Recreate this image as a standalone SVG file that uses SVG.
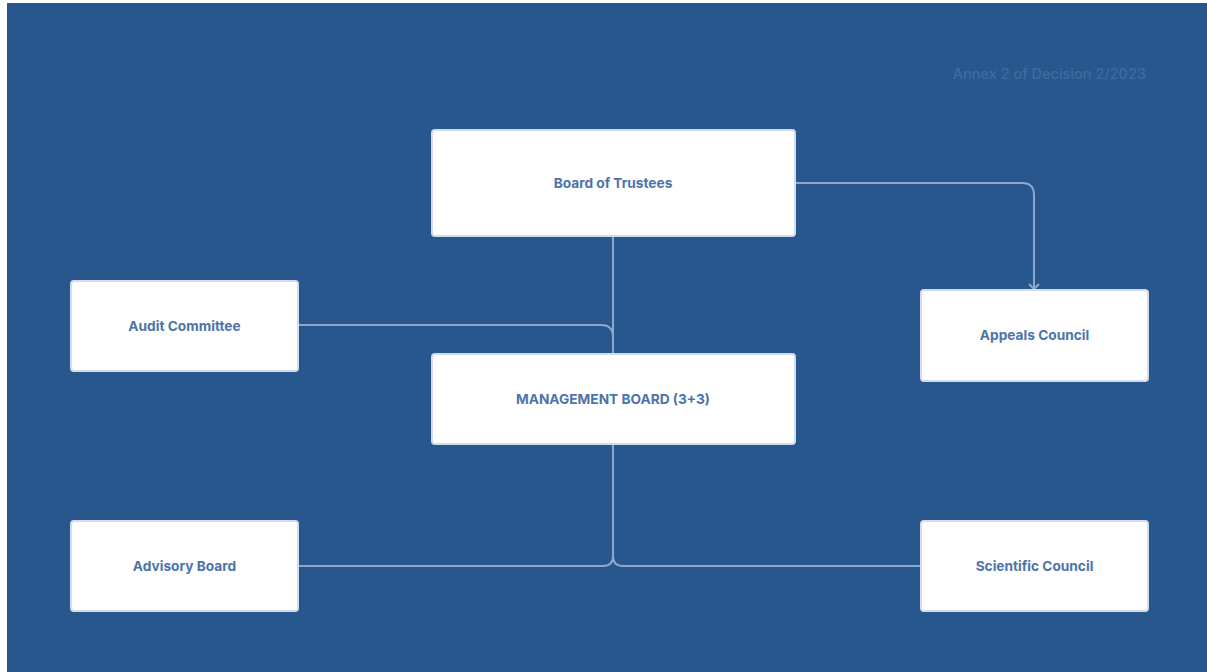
<svg xmlns="http://www.w3.org/2000/svg" width="1207" height="672" viewBox="0 0 1207 672">
<defs>
<style>
.node rect{fill:#ffffff;stroke:#d3dcea;stroke-width:2}
.node text{font-family:Inter,"Liberation Sans",sans-serif;font-weight:700;font-size:13.7px;fill:#4d74aa;text-anchor:middle;dominant-baseline:central}
.conn path{fill:none;stroke:#8ea8cb;stroke-width:2}
.note{font-family:Inter,"Liberation Sans",sans-serif;font-weight:500;font-size:14.5px;fill:#3f6ba2;text-anchor:end}
</style>
<marker id="arr" viewBox="0 0 12 12" refX="10" refY="6" markerWidth="12" markerHeight="12" markerUnits="userSpaceOnUse" orient="auto">
<path d="M5,1 L10,6 L5,11" fill="none" stroke="#8ea8cb" stroke-width="2"/>
</marker>
</defs>
<rect x="0" y="0" width="1207" height="672" fill="#ffffff"/>
<rect x="7" y="3" width="1200" height="669" fill="#28578e"/>
<text class="note" x="1146" y="79">Annex 2 of Decision 2/2023</text>
<g class="conn" id="connectors">
<path d="M795,183 H1022 Q1034,183 1034,195 V289" marker-end="url(#arr)"/>
<path d="M613,236 V354"/>
<path d="M298,325 H601 Q613,325 613,337 V354"/>
<path d="M613,444 V556 Q613,566 603,566 H298"/>
<path d="M613,472 V556 Q613,566 623,566 H921"/>
</g>
<g class="node" id="board-of-trustees"><rect x="432" y="130" width="363" height="106" rx="3"/><text x="613" y="183">Board of Trustees</text></g>
<g class="node" id="audit-committee"><rect x="71" y="281" width="227" height="90" rx="3"/><text x="184.5" y="326">Audit Committee</text></g>
<g class="node" id="appeals-council"><rect x="921" y="290" width="227" height="91" rx="3"/><text x="1034.5" y="335">Appeals Council</text></g>
<g class="node" id="management-board"><rect x="432" y="354" width="363" height="90" rx="3"/><text x="613" y="399">MANAGEMENT BOARD (3+3)</text></g>
<g class="node" id="advisory-board"><rect x="71" y="521" width="227" height="90" rx="3"/><text x="184.5" y="566">Advisory Board</text></g>
<g class="node" id="scientific-council"><rect x="921" y="521" width="227" height="90" rx="3"/><text x="1034.5" y="566">Scientific Council</text></g>
</svg>
